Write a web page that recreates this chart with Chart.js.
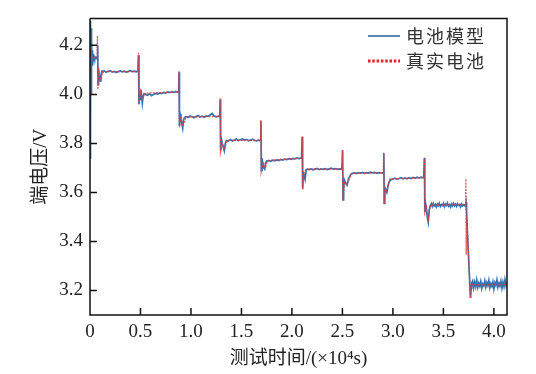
<!DOCTYPE html>
<html lang="zh">
<head>
    <meta charset="UTF-8">
    <title>端电压对比</title>
    <script src="https://cdn.jsdelivr.net/npm/chart.js"></script>
    <style>
        body { margin: 0; background: #fff; }
        canvas { display: block; }
    </style>
</head>
<body>
    <canvas id="voltChart" width="536" height="374"></canvas>
    <script>
        // series names / axis labels
        const seriesNames = ['电池模型', '真实电池'];
        const xTitle = '测试时间/(×10⁴s)';
        const yTitle = '端电压/V';
        const xTicks = [0, 0.5, 1.0, 1.5, 2.0, 2.5, 3.0, 3.5, 4.0];
        const yTicks = [3.2, 3.4, 3.6, 3.8, 4.0, 4.2];

        // 电池模型 (blue), time in 10^4 s
        const modelTime = [
            0, 0.002, 0.004, 0.006, 0.008, 0.010, 0.012, 0.014, 0.016, 0.018, 0.020, 0.023, 0.026, 0.030, 0.035, 0.040, 0.045, 0.050, 0.055, 0.060, 0.066, 0.072,
            0.076, 0.080, 0.085, 0.090, 0.096, 0.102, 0.108, 0.114, 0.120, 0.130,
            0.14, 0.16, 0.18, 0.20, 0.22, 0.24, 0.26, 0.28, 0.30, 0.32, 0.34, 0.36, 0.38, 0.40, 0.42, 0.44, 0.46, 0.475,
            0.480, 0.485, 0.490, 0.497, 0.505, 0.512, 0.518, 0.525, 0.535, 0.55,
            0.57, 0.59, 0.61, 0.63, 0.65, 0.67, 0.69, 0.71, 0.73, 0.75, 0.77, 0.79, 0.81, 0.83, 0.85, 0.87, 0.878,
            0.882, 0.886, 0.892, 0.90, 0.91, 0.918, 0.926, 0.935, 0.95,
            0.97, 0.99, 1.01, 1.03, 1.05, 1.07, 1.09, 1.11, 1.13, 1.15, 1.17, 1.19, 1.21, 1.23, 1.25, 1.27, 1.285,
            1.290, 1.294, 1.30, 1.31, 1.32, 1.33, 1.34, 1.35, 1.37,
            1.39, 1.41, 1.43, 1.45, 1.47, 1.49, 1.51, 1.53, 1.55, 1.57, 1.59, 1.61, 1.63, 1.65, 1.67, 1.688,
            1.693, 1.697, 1.703, 1.71, 1.72, 1.73, 1.74, 1.75, 1.77,
            1.79, 1.81, 1.83, 1.85, 1.87, 1.89, 1.91, 1.93, 1.95, 1.97, 1.99, 2.01, 2.03, 2.05, 2.07, 2.095,
            2.102, 2.106, 2.112, 2.12, 2.13, 2.14, 2.15, 2.17,
            2.19, 2.21, 2.23, 2.25, 2.27, 2.29, 2.31, 2.33, 2.35, 2.37, 2.39, 2.41, 2.43, 2.45, 2.47, 2.495,
            2.502, 2.506, 2.512, 2.52, 2.53, 2.545, 2.56, 2.58, 2.60,
            2.62, 2.64, 2.66, 2.68, 2.70, 2.72, 2.74, 2.76, 2.78, 2.80, 2.82, 2.84, 2.86, 2.88, 2.905,
            2.910, 2.914, 2.92, 2.93, 2.94, 2.95, 2.965, 2.98,
            3.00, 3.02, 3.04, 3.06, 3.08, 3.10, 3.12, 3.14, 3.16, 3.18, 3.20, 3.22, 3.24, 3.26, 3.28, 3.305,
            3.312, 3.316, 3.322, 3.33, 3.34, 3.35, 3.36, 3.37,
            3.38, 3.39, 3.40, 3.41, 3.42, 3.43, 3.44, 3.45, 3.46, 3.47, 3.48, 3.49, 3.50, 3.51, 3.52, 3.53, 3.54, 3.55,
            3.56, 3.57, 3.58, 3.59, 3.60, 3.61, 3.62, 3.63, 3.64, 3.65, 3.66, 3.67, 3.68, 3.69, 3.70, 3.71, 3.72,
            3.724, 3.73, 3.74, 3.75, 3.76, 3.768, 3.774, 3.78,
            3.79, 3.80, 3.81, 3.82, 3.83, 3.84, 3.85, 3.86, 3.87, 3.88, 3.89, 3.90, 3.91, 3.92, 3.93, 3.94, 3.95, 3.96,
            3.97, 3.98, 3.99, 4.00, 4.01, 4.02, 4.03, 4.04, 4.05, 4.06, 4.07, 4.08, 4.09, 4.10, 4.11, 4.12, 4.13
        ];
        const modelVolt = [
            3.74, 4.30, 3.78, 4.29, 3.90, 4.27, 4.00, 4.24, 4.08, 4.22, 4.12, 4.18, 4.14, 4.16, 4.15, 4.155, 4.148, 4.152, 4.15, 4.146, 4.15, 4.148,
            4.20, 4.04, 4.10, 4.08, 4.06, 4.055, 4.07, 4.09, 4.095, 4.092,
            4.096, 4.090, 4.094, 4.097, 4.091, 4.094, 4.089, 4.093, 4.096, 4.092, 4.095, 4.090, 4.094, 4.097, 4.093, 4.095, 4.092, 4.096,
            4.16, 3.96, 4.00, 3.98, 4.02, 3.99, 3.965, 3.99, 4.003, 4.0,
            3.996, 4.002, 3.995, 4.0, 4.004, 4.001, 4.006, 4.003, 4.008, 4.005, 4.01, 4.007, 4.011, 4.008, 4.012, 4.009, 4.01,
            4.09, 3.87, 3.92, 3.90, 3.88, 3.862, 3.895, 3.905, 3.91,
            3.906, 3.912, 3.909, 3.905, 3.91, 3.914, 3.908, 3.911, 3.907, 3.912, 3.91, 3.916, 3.922, 3.912, 3.908, 3.911, 3.909,
            3.98, 3.77, 3.82, 3.80, 3.785, 3.77, 3.80, 3.812, 3.81,
            3.816, 3.81, 3.814, 3.818, 3.812, 3.815, 3.818, 3.813, 3.816, 3.811, 3.814, 3.817, 3.812, 3.81, 3.813, 3.811,
            3.89, 3.69, 3.74, 3.72, 3.70, 3.695, 3.72, 3.728, 3.73,
            3.727, 3.732, 3.729, 3.733, 3.73, 3.735, 3.732, 3.736, 3.734, 3.738, 3.735, 3.739, 3.737, 3.741, 3.738, 3.74,
            3.827, 3.615, 3.68, 3.67, 3.653, 3.69, 3.695, 3.693,
            3.696, 3.692, 3.695, 3.698, 3.693, 3.696, 3.694, 3.697, 3.693, 3.696, 3.699, 3.695, 3.697, 3.694, 3.696, 3.695,
            3.772, 3.57, 3.62, 3.65, 3.64, 3.63, 3.655, 3.672, 3.678,
            3.68, 3.677, 3.681, 3.679, 3.682, 3.678, 3.681, 3.679, 3.683, 3.68, 3.682, 3.678, 3.681, 3.68, 3.681,
            3.76, 3.555, 3.62, 3.61, 3.60, 3.625, 3.645, 3.652,
            3.655, 3.658, 3.654, 3.657, 3.66, 3.656, 3.659, 3.656, 3.66, 3.657, 3.661, 3.658, 3.662, 3.659, 3.662, 3.66,
            3.74, 3.52, 3.56, 3.54, 3.50, 3.478, 3.53, 3.545,
            3.554, 3.543, 3.555, 3.545, 3.551, 3.541, 3.553, 3.546, 3.556, 3.543, 3.550, 3.546, 3.555, 3.542, 3.552, 3.547, 3.557, 3.544,
            3.550, 3.541, 3.553, 3.545, 3.555, 3.546, 3.552, 3.543, 3.554, 3.548, 3.551, 3.541, 3.553, 3.545, 3.550, 3.546, 3.551,
            3.56, 3.52, 3.42, 3.33, 3.24, 3.17, 3.21, 3.23,
            3.239, 3.211, 3.234, 3.216, 3.242, 3.213, 3.230, 3.218, 3.237, 3.209, 3.227, 3.219, 3.239, 3.214, 3.232, 3.220, 3.241, 3.211,
            3.228, 3.217, 3.235, 3.206, 3.232, 3.221, 3.243, 3.214, 3.230, 3.218, 3.238, 3.210, 3.234, 3.216, 3.244, 3.220, 3.235
        ];

        // 真实电池 (red)
        const realTime = [
            0, 0.005, 0.02, 0.04, 0.07, 0.074, 0.078, 0.085, 0.095, 0.11, 0.125,
            0.477, 0.481, 0.486, 0.50, 0.515, 0.53, 0.55,
            0.88, 0.882, 0.886, 0.90, 0.92, 0.95,
            1.285, 1.289, 1.293, 1.31, 1.33, 1.36,
            1.688, 1.692, 1.696, 1.715, 1.735, 1.76,
            2.098, 2.102, 2.106, 2.12, 2.14,
            2.497, 2.501, 2.505, 2.52, 2.545, 2.59,
            2.905, 2.909, 2.913, 2.925, 2.94, 2.97,
            3.308, 3.312, 3.316, 3.33, 3.35, 3.37,
            3.72, 3.723, 3.726, 3.73, 3.77, 3.78, 4.13
        ];
        const realVolt = [
            4.18, 4.16, 4.15, 4.15, 4.15, 4.24, 4.02, 4.11, 4.07, 4.06, 4.093,
            4.093, 4.17, 3.96, 4.01, 3.98, 3.99, 4.005,
            4.01, 4.095, 3.865, 3.91, 3.87, 3.908,
            3.91, 3.985, 3.765, 3.80, 3.775, 3.812,
            3.813, 3.895, 3.685, 3.725, 3.70, 3.73,
            3.74, 3.828, 3.612, 3.68, 3.695,
            3.695, 3.774, 3.566, 3.64, 3.632, 3.678,
            3.68, 3.762, 3.552, 3.615, 3.605, 3.655,
            3.66, 3.742, 3.518, 3.54, 3.49, 3.548,
            3.55, 3.656, 3.346, 3.50, 3.168, 3.224, 3.224
        ];

        const toPoints = (xs, ys) => xs.map((x, i) => ({ x: x, y: ys[i] }));

        const serif = "'Liberation Serif', 'Times New Roman', 'Noto Sans CJK SC', serif";
        const cjk = "'Noto Sans CJK SC', 'Liberation Serif', sans-serif";

        // inward ticks, top/right frame and the legend
        const framePlugin = {
            id: 'frame',
            afterDraw(chart) {
                const { ctx, chartArea: a, scales } = chart;
                ctx.save();
                ctx.strokeStyle = '#111';
                ctx.lineWidth = 1.5;
                ctx.beginPath();
                ctx.moveTo(a.left, a.top);
                ctx.lineTo(a.right, a.top);
                ctx.lineTo(a.right, a.bottom);
                ctx.lineTo(a.left, a.bottom);
                ctx.lineTo(a.left, a.top);
                scales.x.ticks.forEach(t => {
                    const px = scales.x.getPixelForValue(t.value);
                    ctx.moveTo(px, a.bottom);
                    ctx.lineTo(px, a.bottom - 7);
                });
                scales.y.ticks.forEach(t => {
                    const py = scales.y.getPixelForValue(t.value);
                    ctx.moveTo(a.left, py);
                    ctx.lineTo(a.left + 7, py);
                });
                ctx.stroke();

                // legend
                ctx.lineWidth = 1.5;
                ctx.strokeStyle = '#2a5d98';
                ctx.beginPath();
                ctx.moveTo(368, 36);
                ctx.lineTo(400, 36);
                ctx.stroke();
                ctx.lineWidth = 3;
                ctx.strokeStyle = '#e8202a';
                ctx.setLineDash([2.5, 1.8]);
                ctx.beginPath();
                ctx.moveTo(368, 61);
                ctx.lineTo(400, 61);
                ctx.stroke();
                ctx.setLineDash([]);
                ctx.fillStyle = '#333';
                ctx.font = '18px ' + cjk;
                ctx.letterSpacing = '2px';
                ctx.textBaseline = 'middle';
                ctx.fillText(seriesNames[0], 406, 36);
                ctx.fillText(seriesNames[1], 406, 61);
                ctx.restore();
            }
        };

        new Chart(document.getElementById('voltChart'), {
            type: 'line',
            data: {
                datasets: [{
                    label: seriesNames[1],
                    data: toPoints(realTime, realVolt),
                    borderColor: 'rgba(228, 60, 60, 0.85)',
                    borderWidth: 1.3,
                    borderDash: [2, 1.2],
                    pointRadius: 0,
                    order: 0
                }, {
                    label: seriesNames[0],
                    data: toPoints(modelTime, modelVolt),
                    borderColor: '#3372b2',
                    borderWidth: 1.7,
                    pointRadius: 0,
                    order: 1
                }]
            },
            options: {
                responsive: false,
                animation: false,
                layout: { padding: { top: 13, right: 29, left: 0, bottom: 0 } },
                plugins: {
                    legend: { display: false },
                    tooltip: { enabled: false }
                },
                scales: {
                    x: {
                        type: 'linear',
                        min: 0,
                        max: 4.13,
                        afterBuildTicks: s => { s.ticks = xTicks.map(v => ({ value: v })); },
                        afterFit: s => { s.height = 59; },
                        grid: { drawOnChartArea: false, drawTicks: false },
                        border: { display: false },
                        ticks: {
                            padding: 6,
                            color: '#222',
                            font: { family: serif, size: 19 },
                            maxRotation: 0,
                            callback: v => v === 0 ? '0' : v.toFixed(1)
                        },
                        title: {
                            display: true,
                            text: xTitle,
                            color: '#222',
                            font: { family: serif, size: 19 },
                            padding: { top: 8 }
                        }
                    },
                    y: {
                        min: 3.1,
                        max: 4.31,
                        afterBuildTicks: s => { s.ticks = yTicks.map(v => ({ value: v })); },
                        afterFit: s => { s.width = 90; },
                        grid: { drawOnChartArea: false, drawTicks: false },
                        border: { display: false },
                        ticks: {
                            padding: 7,
                            color: '#222',
                            font: { family: serif, size: 19 },
                            callback: v => v.toFixed(1)
                        },
                        title: {
                            display: true,
                            text: yTitle,
                            color: '#222',
                            font: { family: serif, size: 19 },
                            padding: { top: 30 }
                        }
                    }
                }
            },
            plugins: [framePlugin]
        });
    </script>
</body>
</html>
